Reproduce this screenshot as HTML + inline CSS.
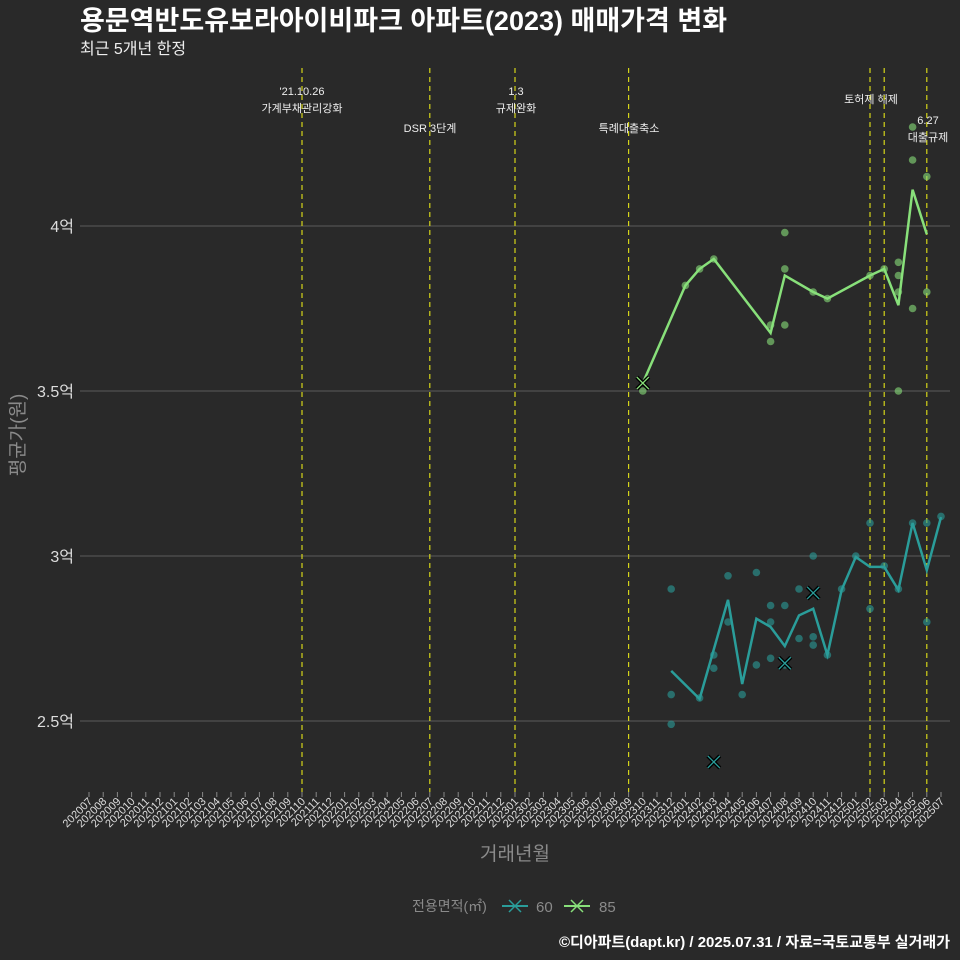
<!DOCTYPE html>
<html><head><meta charset="utf-8"><style>
body{margin:0;background:#292929;}
svg{display:block;font-family:"Liberation Sans","Noto Sans CJK KR",sans-serif;}
</style></head><body>
<svg id="c" width="960" height="960" viewBox="0 0 960 960">
<rect width="960" height="960" fill="#292929"/>
<text x="80" y="30" fill="#fff" font-size="27" font-weight="bold">용문역반도유보라아이비파크 아파트(2023) 매매가격 변화</text>
<text x="80" y="54" fill="#eee" font-size="16">최근 5개년 한정</text>
<g id="grid"></g><g id="vlines"></g><g id="series"></g><g id="xaxis"></g>
<text transform="translate(24,435) rotate(-90)" text-anchor="middle" fill="#8a8a8a" font-size="19">평균가(원)</text>
<text x="515" y="860" text-anchor="middle" fill="#8a8a8a" font-size="19">거래년월</text>
<g>
<text x="412" y="911" fill="#8a8a8a" font-size="14">전용면적(㎡)</text>
<g><line x1="502" y1="906" x2="528" y2="906" stroke="#2a9d9a" stroke-width="2"/><path d="M509,900L521,912M521,900L509,912" stroke="#2a9d9a" stroke-width="1.5"/><text x="536" y="912" fill="#8a8a8a" font-size="15">60</text></g>
<g><line x1="564" y1="906" x2="590" y2="906" stroke="#88e07a" stroke-width="2"/><path d="M571,900L583,912M583,900L571,912" stroke="#88e07a" stroke-width="1.5"/><text x="599" y="912" fill="#8a8a8a" font-size="15">85</text></g>
</g>
<text x="950" y="947" text-anchor="end" fill="#fff" font-size="15" font-weight="bold">©디아파트(dapt.kr) / 2025.07.31 / 자료=국토교통부 실거래가</text>
</svg>
<script>
const yTicks=[2.5,3,3.5,4];
const yTickLabels=["2.5억","3억","3.5억","4억"];
const events=[15,24,30,38,55,56,59];
const eventLabels=[["'21.10.26","가계부채관리강화"],["DSR 3단계"],["1.3","규제완화"],["특례대출축소"],["토허제 해제"],[""],["6.27","대출규제"]];
const eventLabelY=[95,132,95,132,103,0,124];
const eventLabelX=[302,430,516,629,871,0,928];
const line60Months=[41,43,45,46,47,48,49,50,51,52,53,54,55,56,57,58,59,60];
const line60Values=[2.652,2.567,2.867,2.612,2.81,2.785,2.727,2.82,2.84,2.70,2.897,2.997,2.967,2.967,2.897,3.10,2.957,3.118];
const pts60Months=[41,41,41,43,44,44,45,45,46,47,47,48,48,48,49,49,50,50,51,51,51,52,53,54,55,55,56,57,58,59,59,60];
const pts60Values=[2.90,2.58,2.49,2.57,2.70,2.66,2.94,2.80,2.58,2.95,2.67,2.85,2.80,2.69,2.85,2.67,2.90,2.75,3.00,2.755,2.73,2.70,2.90,3.00,3.10,2.84,2.97,2.90,3.10,3.10,2.80,3.12];
const x60Months=[44,49,51];
const x60Values=[2.376,2.675,2.888];
const line85Months=[39,42,43,44,48,49,51,52,55,56,57,58,59];
const line85Values=[3.524,3.82,3.87,3.90,3.676,3.85,3.80,3.78,3.85,3.87,3.76,4.11,3.975];
const pts85Months=[39,42,43,44,48,48,49,49,49,51,52,55,56,57,57,57,57,58,58,58,59,59];
const pts85Values=[3.50,3.82,3.87,3.90,3.70,3.65,3.98,3.87,3.70,3.80,3.78,3.85,3.87,3.89,3.85,3.80,3.50,4.20,4.30,3.75,4.15,3.80];
const x85Months=[39];
const x85Values=[3.524];
const xLabels=[];for(let i=0;i<61;i++){const y=2020+Math.floor((i+6)/12),m=(i+6)%12+1;xLabels.push(""+y+(m<10?"0":"")+m);}
const X=i=>89+i*14.2, Y=v=>226+(4-v)*330;
const NS="http://www.w3.org/2000/svg";
function mk(p,t,a){const e=document.createElementNS(NS,t);for(const k in a)e.setAttribute(k,a[k]);p.appendChild(e);return e;}
const G=document.getElementById('grid'),V=document.getElementById('vlines'),S=document.getElementById('series'),XA=document.getElementById('xaxis');
yTicks.forEach((v,i)=>{const l=mk(G,'line',{x1:80,x2:950,y1:Y(v),y2:Y(v),stroke:'#5c5c5c','stroke-width':1});


const t=mk(G,'text',{x:74,y:Y(v)+6,'text-anchor':'end',fill:'#ddd','font-size':16});t.textContent=yTickLabels[i];

});
xLabels.forEach((s,i)=>{const tk=mk(XA,'line',{x1:X(i),x2:X(i),y1:792,y2:797,stroke:'#888'});


const t=mk(XA,'text',{transform:`translate(${X(i)+4},802) rotate(-45)`,'text-anchor':'end',fill:'#ddd','font-size':11});t.textContent=s;

});
events.forEach((m,i)=>{const l=mk(V,'line',{x1:X(m),x2:X(m),y1:68,y2:792,stroke:'#d4d419','stroke-width':1.2,'stroke-dasharray':'5,4'});


eventLabels[i].forEach((s,j)=>{if(!s)return;const t=mk(V,'text',{x:eventLabelX[i],y:eventLabelY[i]+j*17,'text-anchor':'middle',fill:'#eee','font-size':11});t.textContent=s;

});});
function series(lm,lv,pm,pv,xm,xv,col,name){
pm.forEach((m,i)=>{const c=mk(S,'circle',{cx:X(m),cy:Y(pv[i]),r:3.8,fill:col,'fill-opacity':0.6});

});
const p=mk(S,'polyline',{points:lm.map((m,i)=>X(m)+','+Y(lv[i])).join(' '),fill:'none',stroke:col,'stroke-width':2.5});


xm.forEach((m,i)=>{const x=X(m),y=Y(xv[i]);
const b=mk(S,'path',{d:`M${x-6},${y-6}L${x+6},${y+6}M${x+6},${y-6}L${x-6},${y+6}`,stroke:'#000','stroke-width':4});


const c=mk(S,'path',{d:`M${x-6},${y-6}L${x+6},${y+6}M${x+6},${y-6}L${x-6},${y+6}`,stroke:col,'stroke-width':1.3});

});}
series(line60Months,line60Values,pts60Months,pts60Values,x60Months,x60Values,'#2a9d9a','series-60');
series(line85Months,line85Values,pts85Months,pts85Values,x85Months,x85Values,'#88e07a','series-85');
</script>
</body></html>
